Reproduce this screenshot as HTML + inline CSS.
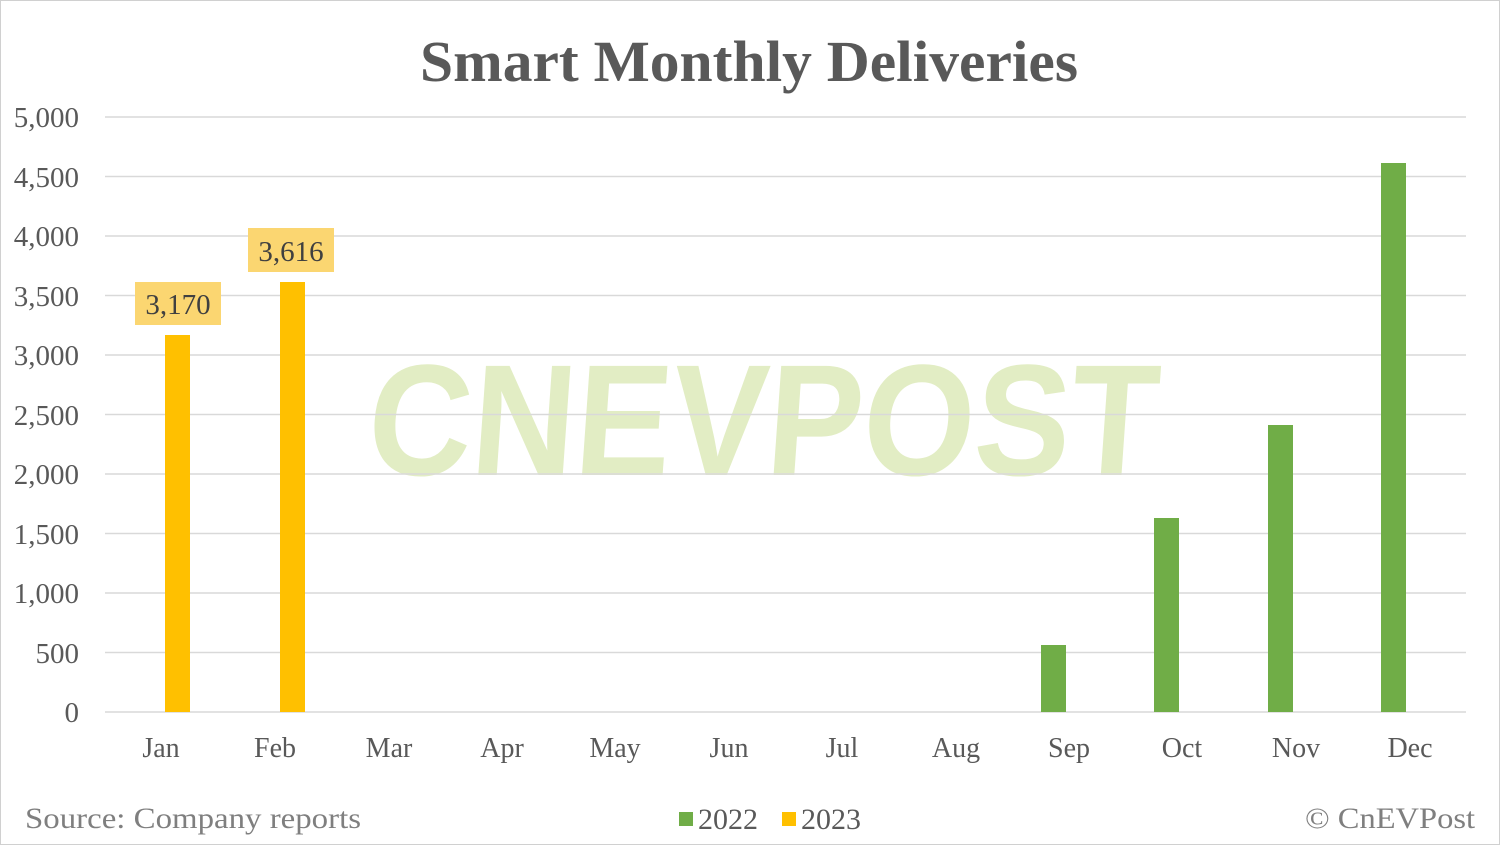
<!DOCTYPE html>
<html><head><meta charset="utf-8"><style>
html,body{margin:0;padding:0;background:#fff;}
svg{display:block;}
</style></head><body>
<svg width="1500" height="845" xmlns="http://www.w3.org/2000/svg" font-family="Liberation Serif, serif">
<rect x="0.5" y="0.5" width="1499" height="844" fill="#fff" stroke="#d0d0d0"/>
<text x="420" y="81" font-size="58" font-weight="bold" fill="#595959" textLength="658" lengthAdjust="spacingAndGlyphs">Smart Monthly Deliveries</text>
<!-- watermark -->
<g transform="translate(365,475) skewX(-4) scale(1,1.22)">
<text x="0" y="0" font-family="Liberation Sans, sans-serif" font-weight="bold" font-size="130" fill="#e2edc4" textLength="790" lengthAdjust="spacingAndGlyphs">CNEVPOST</text>
</g>
<g stroke="#d9d9d9" stroke-width="1.5">
<line x1="105" x2="1466" y1="117" y2="117"/>
<line x1="105" x2="1466" y1="176.5" y2="176.5"/>
<line x1="105" x2="1466" y1="236" y2="236"/>
<line x1="105" x2="1466" y1="295.5" y2="295.5"/>
<line x1="105" x2="1466" y1="355" y2="355"/>
<line x1="105" x2="1466" y1="414.5" y2="414.5"/>
<line x1="105" x2="1466" y1="474" y2="474"/>
<line x1="105" x2="1466" y1="533.5" y2="533.5"/>
<line x1="105" x2="1466" y1="593" y2="593"/>
<line x1="105" x2="1466" y1="652.5" y2="652.5"/>
<line x1="105" x2="1466" y1="712" y2="712"/>
</g>
<g font-size="29" fill="#595959" text-anchor="end">
<text x="79" y="127">5,000</text>
<text x="79" y="187">4,500</text>
<text x="79" y="246">4,000</text>
<text x="79" y="306">3,500</text>
<text x="79" y="365">3,000</text>
<text x="79" y="425">2,500</text>
<text x="79" y="484">2,000</text>
<text x="79" y="544">1,500</text>
<text x="79" y="603">1,000</text>
<text x="79" y="663">500</text>
<text x="79" y="722">0</text>
</g>
<g font-size="28" fill="#595959" text-anchor="middle">
<text x="161" y="757">Jan</text>
<text x="275" y="757">Feb</text>
<text x="389" y="757">Mar</text>
<text x="502" y="757">Apr</text>
<text x="615" y="757">May</text>
<text x="729" y="757">Jun</text>
<text x="842" y="757">Jul</text>
<text x="956" y="757">Aug</text>
<text x="1069" y="757">Sep</text>
<text x="1182" y="757">Oct</text>
<text x="1296" y="757">Nov</text>
<text x="1410" y="757">Dec</text>
</g>
<g fill="#ffc000">
<rect x="165" y="335" width="25" height="377"/>
<rect x="280" y="282" width="25" height="430"/>
</g>
<g fill="#70ad47">
<rect x="1041" y="645" width="25" height="67"/>
<rect x="1154" y="518" width="25" height="194"/>
<rect x="1268" y="425" width="25" height="287"/>
<rect x="1381" y="163" width="25" height="549"/>
</g>
<rect x="135" y="282" width="86" height="43" fill="#fbd671"/>
<rect x="248" y="228" width="86" height="44" fill="#fbd671"/>
<g font-size="29" fill="#404040" text-anchor="middle">
<text x="178" y="314">3,170</text>
<text x="291" y="261">3,616</text>
</g>
<text x="25" y="828" font-size="30" fill="#7f7f7f" textLength="336" lengthAdjust="spacingAndGlyphs">Source: Company reports</text>
<text x="1305" y="828" font-size="30" fill="#7f7f7f" textLength="170" lengthAdjust="spacingAndGlyphs">© CnEVPost</text>
<rect x="679" y="812" width="14" height="14" fill="#70ad47"/>
<text x="698" y="829" font-size="30" fill="#595959" textLength="60" lengthAdjust="spacingAndGlyphs">2022</text>
<rect x="782" y="812" width="14" height="14" fill="#ffc000"/>
<text x="801" y="829" font-size="30" fill="#595959" textLength="60" lengthAdjust="spacingAndGlyphs">2023</text>
</svg>
</body></html>
